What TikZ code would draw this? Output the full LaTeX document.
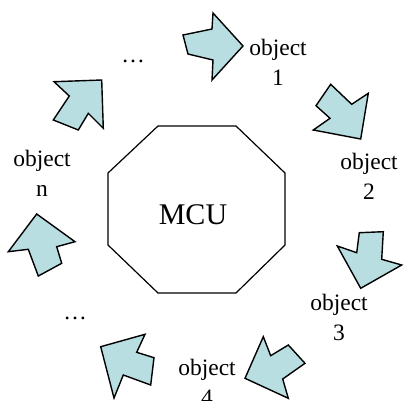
\documentclass[tikz,border=0pt]{standalone}
\usepackage{fontspec}
\setmainfont{Liberation Serif}
\definecolor{arrowblue}{RGB}{184,222,226}
\begin{document}
\begin{tikzpicture}[x=1pt,y=-1pt,
  blk/.style={draw=black, line width=1.4pt, fill=arrowblue, line join=miter},
  lbl/.style={font=\fontsize{23.5}{30}\selectfont, align=center, inner sep=0pt, anchor=base},
  dots/.style={font=\fontsize{23.5}{30}\selectfont, inner sep=0pt, anchor=base},
  octo/.style={draw=black, line width=1.2pt}]
\useasboundingbox (0,0) rectangle (405,400);
% central octagon
\node[font=\fontsize{30}{36}\selectfont, inner sep=0pt, anchor=base] (mcu) at (193,224) {MCU};
\draw[octo] (158,126) -- (236,126) -- (285,173) -- (285,245) -- (236,293) -- (158,293) -- (108,245) -- (108,173) -- cycle;
% block arrows
\draw[blk] (183,35) -- (212,29) -- (213,13) -- (243,46) -- (212,80) -- (213,60) -- (188,54) -- cycle;
\draw[blk] (316,105.7) -- (330.7,84.3) -- (351.7,104.3) -- (368.3,93.3) -- (360.7,139) -- (313.3,130) -- (330,118.3) -- cycle;
\draw[blk] (359.3,232.7) -- (383.3,231.7) -- (381.7,259.3) -- (401.7,265) -- (360.7,288.3) -- (337.3,246) -- (356.7,252.7) -- cycle;
\draw[blk] (263.3,336.7) -- (270.7,355.7) -- (288.3,345) -- (305,363.3) -- (282.7,379) -- (288.3,398.3) -- (245,378.3) -- cycle;
\draw[blk] (100.7,346.7) -- (145,334.3) -- (136.7,352.3) -- (154,357.7) -- (150.7,385) -- (123.3,375) -- (114,398) -- cycle;
\draw[blk] (36.7,214) -- (75,241.7) -- (56.7,246.7) -- (61.7,263.3) -- (38.3,276) -- (28.3,249.3) -- (8.3,251.7) -- cycle;
\draw[blk] (101.7,80) -- (103.3,128.3) -- (88.3,113.3) -- (78.3,130) -- (53.3,120) -- (69.3,96) -- (54,81.7) -- cycle;
% labels (base = baseline of the last line)
\node[lbl] (o1) at (278,85) {object\\1};
\node[lbl] (o2) at (369,199) {object\\2};
\node[lbl] (o3) at (339,340) {object\\3};
\node[lbl] (o4) at (207,405) {object\\4};
\node[lbl] (on) at (42,196) {object\\n};
\node[dots] (d1) at (133,62) {…};
\node[dots] (d2) at (75,319) {…};
\end{tikzpicture}
\end{document}
